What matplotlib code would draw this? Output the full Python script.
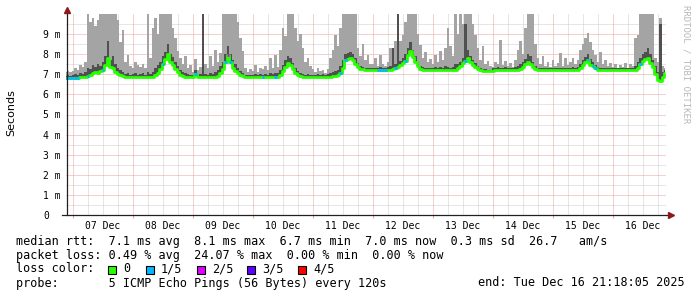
import numpy as np
import matplotlib
matplotlib.use("Agg")
import matplotlib.pyplot as plt
from matplotlib.patches import Rectangle

# ---------------- data (hours relative to Dec 7 00:00) ----------------
hours = np.arange(-3, 238)          # hourly samples, Dec 6 21:00 .. Dec 16 21:00
x_start, x_end = -2.7, 237.3        # Dec 6 21:18:05 .. Dec 16 21:18:05

# median RTT (ms), per day
med_pre = [6.8, 6.8, 6.8]
med_d07 = [6.8, 6.8, 6.8, 6.85, 6.85, 6.85, 6.9, 6.95, 7.05, 7.1, 7.05, 7.15, 7.2, 7.45, 7.8, 7.35, 7.3, 7.1, 7.0, 6.95, 6.9, 6.85, 6.85, 6.85]
med_d08 = [6.85, 6.85, 6.85, 6.85, 6.85, 6.85, 6.85, 6.85, 6.85, 6.95, 7.05, 7.25, 7.5, 7.75, 8.0, 7.6, 7.45, 7.25, 7.1, 6.95, 6.9, 6.85, 6.85, 6.85]
med_d09 = [6.85, 7.0, 6.85, 6.85, 6.85, 6.85, 6.85, 6.85, 6.85, 6.85, 6.9, 7.05, 7.25, 7.6, 7.95, 7.6, 7.3, 7.15, 7.05, 6.95, 6.9, 6.85, 6.85, 6.85]
med_d10 = [6.85, 6.85, 6.85, 6.85, 6.85, 6.85, 6.85, 6.85, 6.85, 6.85, 6.85, 6.95, 7.15, 7.35, 7.55, 7.45, 7.25, 7.05, 6.95, 6.9, 6.85, 6.85, 6.85, 6.85]
med_d11 = [6.85, 6.85, 6.85, 6.85, 6.85, 6.85, 6.85, 6.88, 6.9, 6.92, 6.95, 7.05, 7.3, 7.7, 7.75, 7.8, 7.7, 7.5, 7.35, 7.28, 7.25, 7.22, 7.22, 7.22]
med_d12 = [7.22, 7.2, 7.2, 7.2, 7.2, 7.2, 7.22, 7.22, 7.25, 7.3, 7.35, 7.45, 7.55, 7.65, 7.95, 8.15, 7.85, 7.6, 7.4, 7.25, 7.22, 7.22, 7.22, 7.22]
med_d13 = [7.22, 7.22, 7.22, 7.22, 7.22, 7.22, 7.22, 7.22, 7.22, 7.22, 7.3, 7.4, 7.55, 7.65, 7.8, 7.6, 7.45, 7.35, 7.25, 7.2, 7.15, 7.15, 7.15, 7.15]
med_d14 = [7.18, 7.2, 7.2, 7.2, 7.2, 7.2, 7.2, 7.2, 7.2, 7.2, 7.22, 7.28, 7.38, 7.5, 7.6, 7.5, 7.35, 7.25, 7.2, 7.2, 7.2, 7.2, 7.2, 7.2]
med_d15 = [7.2, 7.2, 7.2, 7.2, 7.2, 7.2, 7.2, 7.2, 7.2, 7.2, 7.2, 7.3, 7.45, 7.6, 7.7, 7.45, 7.4, 7.3, 7.22, 7.2, 7.2, 7.2, 7.2, 7.2]
med_d16 = [7.2, 7.2, 7.2, 7.2, 7.2, 7.2, 7.2, 7.2, 7.2, 7.22, 7.3, 7.5, 7.65, 7.75, 7.8, 7.55, 7.35, 7.0, 6.7, 6.67, 6.85, 7.05]

# inner smoke (dark) upper edge, ms
dark_pre = [6.9, 6.95, 6.9]
dark_d07 = [6.95, 7.0, 6.95, 7.05, 7.0, 7.1, 7.3, 7.25, 7.45, 7.35, 7.5, 7.4, 7.6, 7.9, 8.65, 7.7, 7.9, 7.5, 7.3, 7.2, 7.1, 7.0, 7.05, 6.95]
dark_d08 = [7.0, 7.05, 6.95, 7.0, 7.05, 6.95, 7.1, 7.0, 7.1, 7.3, 7.45, 7.6, 7.9, 8.1, 8.5, 8.0, 7.85, 7.6, 7.4, 7.2, 7.1, 7.05, 7.0, 6.95]
dark_d09 = [6.95, 7.2, 6.95, 7.0, 10.0, 7.0, 6.95, 7.05, 7.0, 7.1, 7.2, 7.4, 7.6, 8.0, 8.4, 8.0, 7.7, 7.5, 7.3, 7.15, 7.05, 6.95, 6.95, 6.95]
dark_d10 = [6.95, 7.0, 6.95, 7.0, 6.95, 7.0, 6.95, 7.05, 7.0, 7.05, 7.05, 7.2, 7.45, 7.7, 7.9, 7.8, 7.55, 7.3, 7.15, 7.05, 7.0, 6.95, 7.0, 6.95]
dark_d11 = [6.95, 6.95, 7.0, 6.95, 7.0, 6.95, 7.0, 7.05, 7.1, 7.15, 7.2, 7.4, 7.7, 8.0, 8.05, 8.1, 8.0, 7.8, 7.55, 7.4, 7.35, 7.3, 7.3, 7.3]
dark_d12 = [7.3, 7.3, 7.3, 7.35, 7.3, 7.3, 7.35, 7.4, 8.3, 7.5, 10.0, 7.65, 7.8, 8.0, 8.3, 8.6, 8.2, 7.9, 7.6, 7.4, 7.35, 7.3, 7.3, 7.3]
dark_d13 = [7.3, 7.35, 7.3, 7.35, 7.3, 7.4, 7.35, 7.3, 7.35, 7.5, 7.5, 7.6, 7.8, 9.5, 8.2, 7.9, 7.7, 7.55, 7.4, 7.3, 7.25, 7.25, 7.2, 7.2]
dark_d14 = [7.3, 7.3, 7.35, 7.3, 7.3, 7.35, 7.3, 7.3, 7.3, 7.35, 7.4, 7.5, 7.6, 7.75, 8.0, 7.9, 7.6, 7.4, 7.3, 7.3, 7.3, 7.3, 7.3, 7.3]
dark_d15 = [7.3, 7.3, 7.3, 7.3, 7.3, 7.3, 7.3, 7.3, 7.35, 7.3, 7.35, 7.5, 7.7, 7.85, 8.0, 7.75, 7.6, 7.45, 7.35, 7.3, 7.3, 7.3, 7.3, 7.3]
dark_d16 = [7.3, 7.3, 7.3, 7.3, 7.3, 7.3, 7.3, 7.3, 7.3, 7.4, 7.6, 7.8, 8.0, 8.1, 8.3, 8.0, 7.7, 7.4, 7.1, 9.5, 7.1, 7.2]

# outer smoke (light) upper edge, ms (graph clips at 10)
light_pre = [7.1, 7.15, 7.1]
light_d07 = [7.15, 7.3, 7.2, 7.45, 7.35, 7.6, 10.0, 9.6, 9.8, 9.4, 9.7, 10.0, 10.0, 10.0, 10.0, 10.0, 10.0, 10.0, 9.7, 8.6, 9.2, 7.6, 7.95, 7.4]
light_d08 = [7.3, 7.6, 7.45, 7.35, 7.5, 7.3, 10.0, 7.8, 9.3, 9.8, 9.0, 10.0, 10.0, 10.0, 10.0, 10.0, 9.3, 8.8, 8.15, 7.8, 7.5, 7.9, 7.3, 7.45]
light_d09 = [7.1, 7.75, 7.2, 7.35, 10.0, 7.5, 7.3, 7.9, 7.4, 8.2, 7.6, 8.05, 10.0, 10.0, 10.0, 10.0, 10.0, 10.0, 9.6, 8.8, 8.15, 7.3, 7.1, 7.25]
light_d10 = [7.15, 7.45, 7.1, 7.3, 7.25, 7.4, 7.2, 7.8, 7.3, 7.95, 7.35, 8.2, 9.3, 8.9, 10.0, 10.0, 10.0, 9.3, 8.65, 9.0, 8.3, 7.6, 7.8, 7.4]
light_d11 = [7.25, 7.1, 7.3, 7.15, 7.2, 7.05, 7.25, 7.8, 8.2, 8.95, 8.4, 9.3, 10.0, 10.0, 10.0, 10.0, 10.0, 10.0, 8.3, 7.9, 8.5, 7.7, 7.95, 7.5]
light_d12 = [7.5, 7.8, 7.4, 7.95, 7.5, 7.4, 7.6, 8.3, 8.3, 8.65, 10.0, 8.65, 8.95, 9.6, 10.0, 10.0, 10.0, 10.0, 9.0, 8.45, 7.8, 8.1, 7.6, 7.75]
light_d13 = [7.5, 7.95, 7.6, 8.15, 7.7, 8.3, 9.3, 8.4, 7.9, 10.0, 9.0, 10.0, 9.5, 10.0, 10.0, 10.0, 9.5, 8.95, 8.3, 7.7, 8.4, 7.5, 7.65, 7.4]
light_d14 = [7.35, 7.6, 7.5, 8.7, 7.45, 7.65, 7.4, 7.55, 7.35, 7.7, 8.2, 8.65, 8.0, 9.3, 10.0, 10.0, 10.0, 8.5, 7.8, 7.5, 7.9, 7.4, 7.6, 7.35]
light_d15 = [7.7, 7.4, 7.55, 8.05, 7.4, 7.8, 7.45, 7.6, 7.8, 7.5, 7.7, 8.2, 8.5, 8.8, 9.05, 8.6, 8.2, 7.95, 7.6, 8.1, 7.5, 7.7, 7.4, 7.55]
light_d16 = [7.35, 7.5, 7.3, 7.45, 7.35, 7.55, 7.3, 7.5, 7.4, 8.8, 8.95, 10.0, 10.0, 10.0, 10.0, 10.0, 10.0, 7.8, 7.6, 9.8, 7.4, 7.3]

# packet loss events: hour index (relative to Dec 7 00:00) and lost pings out of 5
loss_hours = [-3, -2, -1, 0, 1, 2, 6, 12, 36, 49, 61, 62, 63, 76, 81, 107, 109,
              122, 123, 124, 125, 129, 133, 157, 206, 208, 209, 227]
loss_counts = [1, 1, 1, 1, 1, 1, 1, 1, 1, 1, 1, 2, 1, 1, 1, 1, 1,
               1, 1, 1, 1, 1, 1, 1, 1, 1, 1, 1]

loss_colors = ["#26ff00", "#00b8ff", "#dd00ff", "#5e00ff", "#ff0000"]
loss_names = ["0", "1/5", "2/5", "3/5", "4/5"]

day_labels = ["07 Dec", "08 Dec", "09 Dec", "10 Dec", "11 Dec",
              "12 Dec", "13 Dec", "14 Dec", "15 Dec", "16 Dec"]
ytick_values = [0, 1, 2, 3, 4, 5, 6, 7, 8, 9]
ytick_labels = ["0", "1 m", "2 m", "3 m", "4 m", "5 m", "6 m", "7 m", "8 m", "9 m"]

stat_rtt = ["7.1", "8.1", "6.7", "7.0", "0.3", "26.7"]
stat_loss = ["0.49", "24.07", "0.00", "0.00"]
probe_text = "5 ICMP Echo Pings (56 Bytes) every 120s"
end_text = "end: Tue Dec 16 21:18:05 2025"

median = np.array(med_pre + med_d07 + med_d08 + med_d09 + med_d10 + med_d11 +
                  med_d12 + med_d13 + med_d14 + med_d15 + med_d16)
dark = np.array(dark_pre + dark_d07 + dark_d08 + dark_d09 + dark_d10 + dark_d11 +
                dark_d12 + dark_d13 + dark_d14 + dark_d15 + dark_d16)
light = np.array(light_pre + light_d07 + light_d08 + light_d09 + light_d10 + light_d11 +
                 light_d12 + light_d13 + light_d14 + light_d15 + light_d16)

# ---------------- figure ----------------
W, H = 697, 297
fig = plt.figure(figsize=(W / 100, H / 100), dpi=100)
fig.patch.set_facecolor("white")
ax = fig.add_axes([66 / W, 82 / H, 600 / W, 201 / H])
ax.set_xlim(x_start, x_end)
ax.set_ylim(0, 10)
for s in ax.spines.values():
    s.set_visible(False)

mono = "DejaVu Sans Mono"
major_c = "#f0a0a0"
minor_c = "#cfcfcf"
dots = (0, (1, 1))

# grid (under the data)
for hh in np.arange(6, 240, 6):
    if hh % 24:
        ax.axvline(hh, color=minor_c, lw=0.72, ls=dots, zorder=0)
for yy in np.arange(0.5, 10, 1.0):
    ax.axhline(yy, color=minor_c, lw=0.72, ls=dots, zorder=0)
for hh in np.arange(0, 240, 24):
    ax.axvline(hh, color=major_c, lw=0.72, ls=dots, zorder=0)
for yy in range(1, 10):
    ax.axhline(yy, color=major_c, lw=0.72, ls=dots, zorder=0)

# smoke
ax.fill_between(hours, median, light, step="mid", color="#a4a4a4", lw=0, zorder=2)
ax.fill_between(hours, median, dark, step="mid", color="#505050", lw=0, zorder=3)

# median line coloured by loss
ax.plot(hours, median, drawstyle="steps-mid", color=loss_colors[0], lw=2.0,
        zorder=4, solid_capstyle="butt")
for lh, lc in zip(loss_hours, loss_counts):
    idx = int(np.where(hours == lh)[0][0])
    ax.hlines(median[idx], lh - 0.5, lh + 0.5, color=loss_colors[lc], lw=2.0, zorder=5)

# ticks
ax.set_xticks(np.arange(0, 240, 24))
ax.set_xticklabels([])
ax.tick_params(axis="x", which="major", length=2.5, width=0.8, color=major_c, direction="out")
ax.set_xticks(np.arange(12, 240, 24), minor=True)
ax.set_xticklabels(day_labels, minor=True, fontsize=7, family=mono)
ax.tick_params(axis="x", which="minor", length=0, pad=4.5)

ax.set_yticks(ytick_values)
ax.set_yticklabels(ytick_labels, fontsize=7, family=mono)
ax.tick_params(axis="y", length=0, pad=16.5)
for lbl in ax.get_yticklabels():
    lbl.set_ha("left")

# axes with arrows
axis_c = "#202020"
arrow_c = "#8b1a1a"
ax.plot([-4 / 600, 1.006], [0, 0], transform=ax.transAxes, color=axis_c, lw=0.9,
        clip_on=False, zorder=6)
ax.plot([0.0015, 0.0015], [0, 1.012], transform=ax.transAxes, color=axis_c, lw=0.9,
        clip_on=False, zorder=6)
ax.plot([1.009], [0], marker=">", ms=4, color=arrow_c, mec=arrow_c,
        transform=ax.transAxes, clip_on=False, zorder=7)
ax.plot([0.0015], [1.018], marker="^", ms=4, color=arrow_c, mec=arrow_c,
        transform=ax.transAxes, clip_on=False, zorder=7)

# labels
fig.text(11 / W, 1 - 113 / H, "Seconds", rotation=90, fontsize=8,
         family="DejaVu Sans", ha="center", va="center")
fig.text(686 / W, 1 - 5 / H, "RRDTOOL / TOBI OETIKER", rotation=270, fontsize=6.5,
         family=mono, color="#b8b8b8", ha="center", va="top")

fs = 8.5
row1 = ("median rtt:  %s ms avg  %s ms max  %s ms min  %s ms now  %s ms sd  %s   am/s"
        % tuple(stat_rtt))
row2 = "packet loss: %s %% avg  %s %% max  %s %% min  %s %% now" % tuple(stat_loss)
fig.text(16 / W, 1 - 241.5 / H, row1, fontsize=fs, family=mono, va="center")
fig.text(16 / W, 1 - 255 / H, row2, fontsize=fs, family=mono, va="center")
fig.text(16 / W, 1 - 269 / H, "loss color:", fontsize=fs, family=mono, va="center")
sq_x = [108, 146, 197, 247, 298]
for sx, c, name in zip(sq_x, loss_colors, loss_names):
    fig.add_artist(Rectangle((sx / W, 1 - 273.5 / H), 8 / W, 8 / H,
                             transform=fig.transFigure, facecolor=c,
                             edgecolor="black", lw=0.8))
    fig.text((sx + 15) / W, 1 - 269 / H, name, fontsize=fs, family=mono, va="center")
fig.text(16 / W, 1 - 283 / H, "probe:       " + probe_text, fontsize=fs, family=mono,
         va="center")
fig.text(478 / W, 1 - 283 / H, end_text, fontsize=fs, family=mono, va="center")

fig.savefig("out.png", dpi=100, facecolor="white")
